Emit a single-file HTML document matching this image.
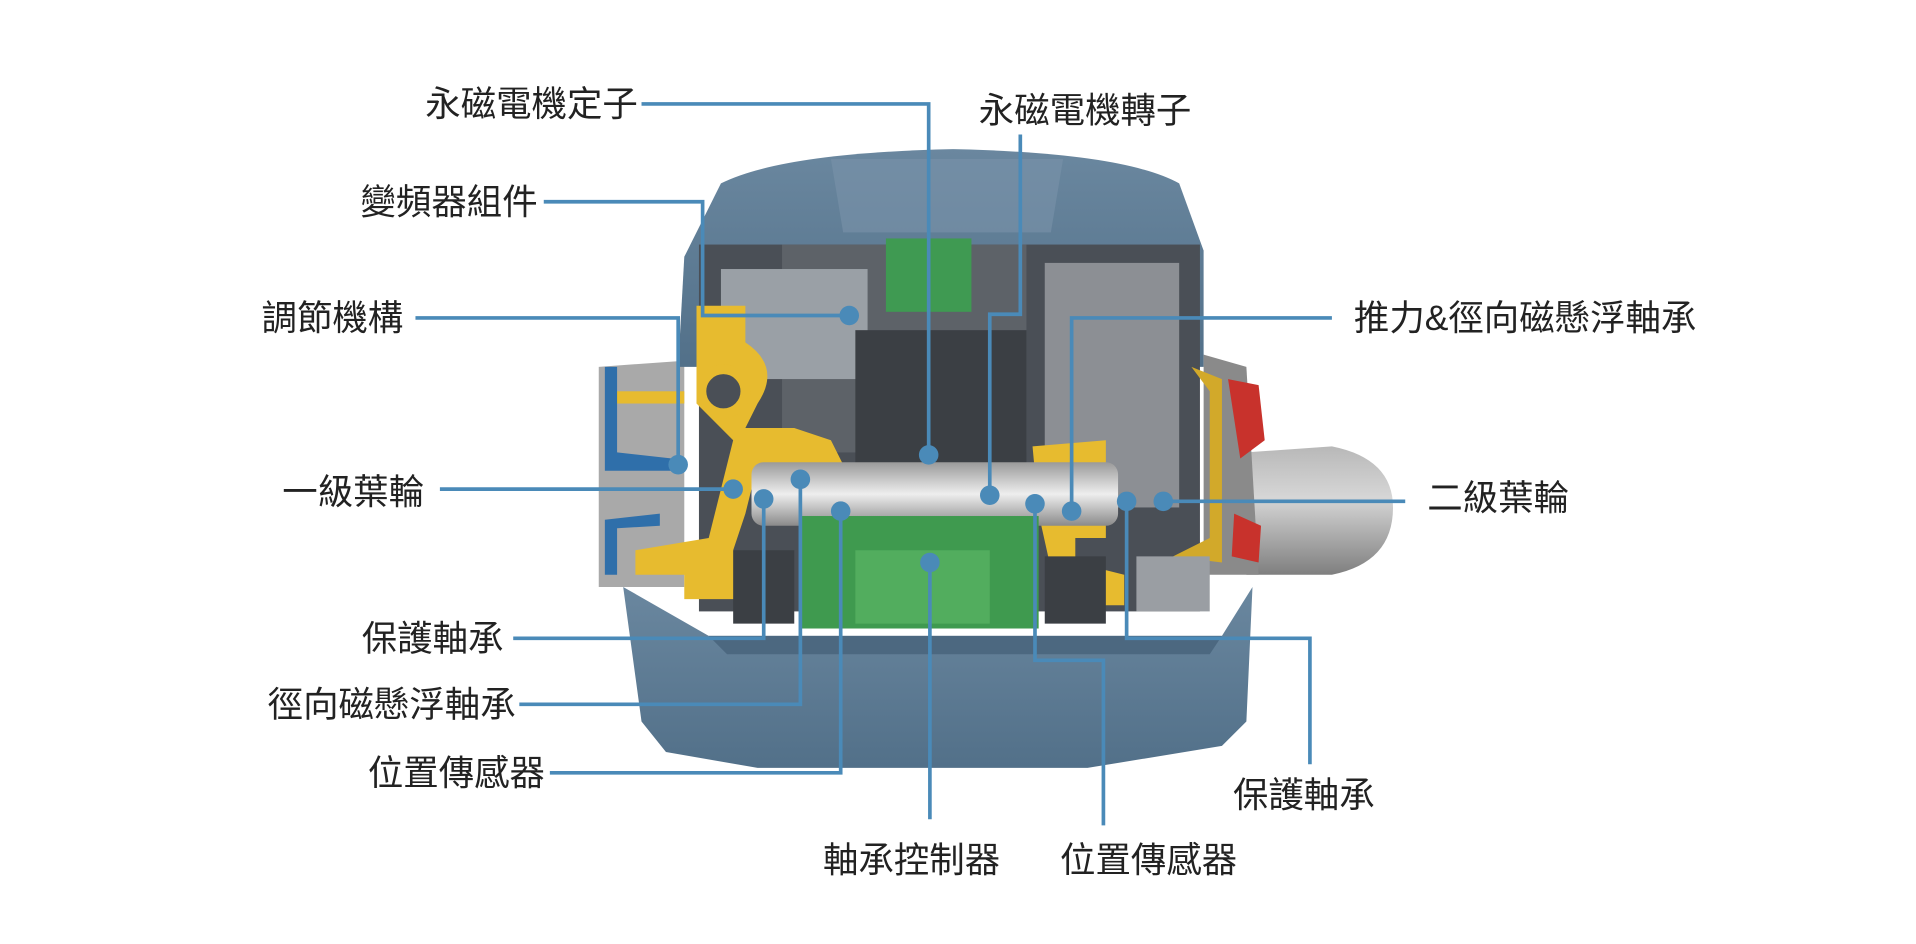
<!DOCTYPE html>
<html><head><meta charset="utf-8"><style>
html,body{margin:0;padding:0;background:#fff;width:1916px;height:944px;overflow:hidden}
svg{display:block}
text{font-family:"Liberation Sans","Noto Sans CJK TC","Noto Sans CJK SC",sans-serif;font-size:29px;fill:#222}
</style></head><body>
<svg width="1916" height="944" viewBox="0 0 1568 772" preserveAspectRatio="none" xmlns="http://www.w3.org/2000/svg">
<defs>
<linearGradient id="hs" x1="0" y1="0" x2="0" y2="1"><stop offset="0" stop-color="#6a879f"/><stop offset="1" stop-color="#527089"/></linearGradient>
<linearGradient id="sh" x1="0" y1="0" x2="0" y2="1"><stop offset="0" stop-color="#9a9a9a"/><stop offset=".5" stop-color="#eeeeee"/><stop offset="1" stop-color="#8a8a8a"/></linearGradient>
<linearGradient id="pipe" x1="0" y1="0" x2="0" y2="1"><stop offset="0" stop-color="#b8b8b8"/><stop offset=".4" stop-color="#d6d6d6"/><stop offset="1" stop-color="#7f7f7f"/></linearGradient>
</defs>
<path d="M1020 370 L1090 365 Q1140 375 1140 415 Q1140 460 1090 470 L1020 470 Z" fill="url(#pipe)"/>
<path d="M490 300 L560 295 L560 480 L490 480 Z" fill="#a9a9a9"/>
<path d="M560 210 L590 150 Q640 125 780 122 Q920 125 965 150 L985 205 L985 300 L555 300 Z" fill="url(#hs)"/>
<path d="M680 130 L690 190 L860 190 L870 130 Z" fill="#7993aa" opacity=".6"/>
<path d="M985 290 L1020 300 L1030 470 L985 470 Z" fill="#8a8a8a"/>
<path d="M1005 310 L1030 315 L1035 360 L1015 375 Z M1010 420 L1032 430 L1030 460 L1008 455 Z" fill="#c8322c"/>
<rect x="572" y="200" width="410" height="300" fill="#4a4f56"/>
<rect x="640" y="200" width="200" height="170" fill="#5d6268"/>
<rect x="855" y="215" width="110" height="200" fill="#8c8f94"/>
<rect x="590" y="220" width="120" height="90" fill="#9aa0a6"/>
<rect x="725" y="195" width="70" height="60" fill="#3f9a52"/>
<rect x="700" y="270" width="140" height="110" fill="#3b3f44"/>
<path d="M570 250 L610 250 L610 280 Q640 300 620 330 L610 350 L650 350 L680 360 L690 380 L620 380 L610 420 L600 450 L640 460 L640 490 L560 490 L560 470 L520 470 L520 450 L580 440 L590 400 L600 360 L570 330 Z" fill="#e7bb2f"/>
<circle cx="592" cy="320" r="18" fill="#4a4f56" stroke="#e7bb2f" stroke-width="8"/>
<rect x="500" y="320" width="60" height="10" fill="#e7bb2f"/>
<path d="M845 365 L905 360 L905 440 L880 440 L880 460 L920 470 L920 495 L900 495 L900 470 L860 465 L850 420 Z" fill="#e7bb2f"/>
<path d="M975 300 L1000 310 L1000 460 L960 455 L990 440 L990 320 Z" fill="#d2a92a"/>
<path d="M495 300 L505 300 L505 370 L550 375 L550 385 L495 385 Z M495 425 L540 420 L540 430 L505 432 L505 470 L495 470 Z" fill="#2f6faa"/>
<rect x="615" y="378" width="300" height="52" rx="10" fill="url(#sh)"/>
<rect x="655" y="422" width="195" height="92" fill="#3f9a4f"/>
<rect x="700" y="450" width="110" height="60" fill="#52ad5e"/>
<rect x="600" y="450" width="50" height="60" fill="#3b3f44"/>
<rect x="855" y="455" width="50" height="55" fill="#3b3f44"/>
<rect x="930" y="455" width="60" height="45" fill="#9a9ea3"/>
<path d="M510 480 L580 520 L1000 520 L1025 480 L1020 590 L1000 610 L890 628 L620 628 L545 615 L525 590 Z" fill="url(#hs)"/>
<path d="M580 520 L1000 520 L990 535 L595 535 Z" fill="#4c6880"/>
<g fill="none" stroke="#4a8ab8" stroke-width="3">
<polyline points="525,85 760,85 760,372"/>
<polyline points="835,110 835,257 810,257 810,405"/>
<polyline points="445,165 575,165 575,258 695,258"/>
<polyline points="340,260 555,260 555,380"/>
<polyline points="1090,260 877,260 877,418"/>
<polyline points="360,400 600,400"/>
<polyline points="1150,410 952,410"/>
<polyline points="420,522 625,522 625,408"/>
<polyline points="425,576 655,576 655,392"/>
<polyline points="450,632 688,632 688,418"/>
<polyline points="761,670 761,460"/>
<polyline points="903,675 903,540 847,540 847,412"/>
<polyline points="1072,625 1072,522 922,522 922,410"/>
</g>
<g fill="#4a8ab8">
<circle cx="760" cy="372" r="8"/><circle cx="810" cy="405" r="8"/><circle cx="695" cy="258" r="8"/>
<circle cx="555" cy="380" r="8"/><circle cx="877" cy="418" r="8"/><circle cx="600" cy="400" r="8"/>
<circle cx="952" cy="410" r="8"/><circle cx="625" cy="408" r="8"/><circle cx="655" cy="392" r="8"/>
<circle cx="688" cy="418" r="8"/><circle cx="761" cy="460" r="8"/><circle cx="847" cy="412" r="8"/>
<circle cx="922" cy="410" r="8"/>
</g>
<text x="522" y="95" text-anchor="end">永磁電機定子</text>
<text x="888" y="100" text-anchor="middle">永磁電機轉子</text>
<text x="440" y="175" text-anchor="end">變頻器組件</text>
<text x="330" y="270" text-anchor="end">調節機構</text>
<text x="1108" y="270">推力&amp;徑向磁懸浮軸承</text>
<text x="347" y="412" text-anchor="end">一級葉輪</text>
<text x="1168" y="417">二級葉輪</text>
<text x="412" y="532" text-anchor="end">保護軸承</text>
<text x="422" y="586" text-anchor="end">徑向磁懸浮軸承</text>
<text x="446" y="642" text-anchor="end">位置傳感器</text>
<text x="746" y="713" text-anchor="middle">軸承控制器</text>
<text x="940" y="713" text-anchor="middle">位置傳感器</text>
<text x="1067" y="660" text-anchor="middle">保護軸承</text>
</svg>
</body></html>
